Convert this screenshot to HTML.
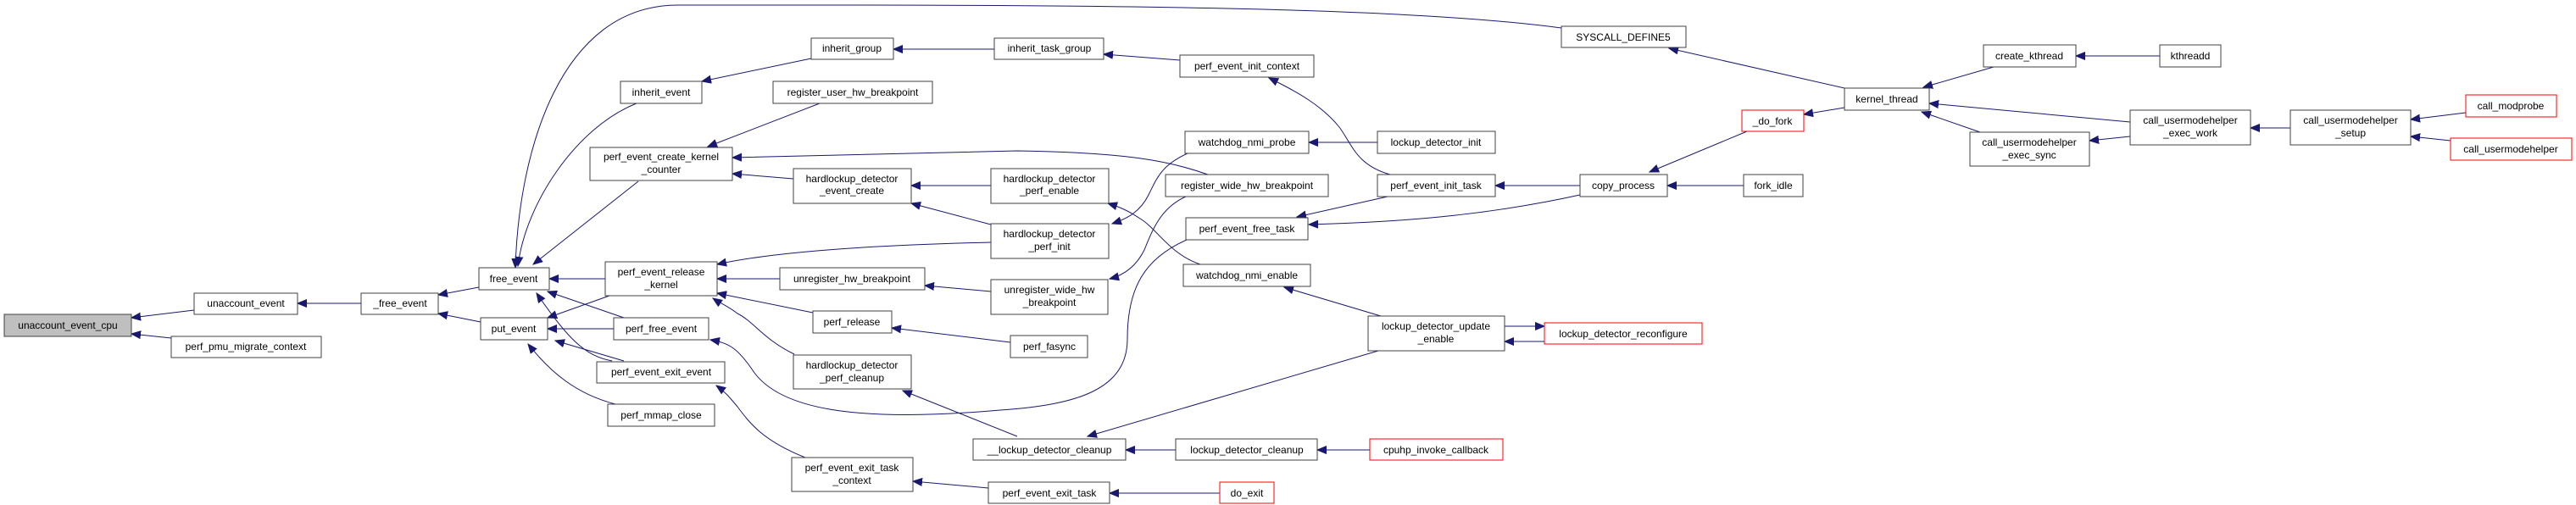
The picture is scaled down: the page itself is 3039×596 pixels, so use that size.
<!DOCTYPE html>
<html><head><meta charset="utf-8"><style>
html,body{margin:0;padding:0;background:#fff;}
svg{display:block;}
text{font-family:"Liberation Sans",Arial,sans-serif;font-size:12px;fill:#000;}
.n{fill:#fff;stroke:#404040;stroke-width:1;}
.r{fill:#fff;stroke:#ff0000;stroke-width:1;}
.e{fill:none;stroke:#191970;stroke-width:1;}
</style></head><body>
<svg width="3039" height="596" viewBox="0 0 3039 596" xmlns="http://www.w3.org/2000/svg">
<defs><marker id="a" markerUnits="userSpaceOnUse" markerWidth="12" markerHeight="10" refX="11" refY="5" orient="auto"><path d="M0,0.5 L11,5 L0,9.5 z" fill="#191970" stroke="#191970"/></marker></defs>
<g marker-end="url(#a)">
<path class="e" d="M229,366 L155,375"/>
<path class="e" d="M202,399 L155,394"/>
<path class="e" d="M426,358 L351,358"/>
<path class="e" d="M565,339 L517,348"/>
<path class="e" d="M567,380 L517,370"/>
<path class="e" d="M1842,33 C1700,14 1450,6 1000,6 L800,6 C660,6 612,180 608,316"/>
<path class="e" d="M751,122 C680,150 620,240 611,314"/>
<path class="e" d="M753,214 L629,312"/>
<path class="e" d="M714,329 L648,329"/>
<path class="e" d="M736,375 L646,344"/>
<path class="e" d="M722,426 C690,420 670,400 633,346"/>
<path class="e" d="M719,349 L646,375"/>
<path class="e" d="M724,388 L646,388"/>
<path class="e" d="M736,426 L655,402"/>
<path class="e" d="M726,477 C680,465 650,440 623,406"/>
<path class="e" d="M957,69 L828,96"/>
<path class="e" d="M1173,58 L1054,58"/>
<path class="e" d="M1392,71 L1302,64"/>
<path class="e" d="M967,122 L835,173"/>
<path class="e" d="M1425,206 C1380,190 1330,180 1200,178 L864,186"/>
<path class="e" d="M936,211 L864,205"/>
<path class="e" d="M1169,219 L1075,219"/>
<path class="e" d="M1169,265 L1075,240"/>
<path class="e" d="M1169,286 C1000,290 900,300 846,312"/>
<path class="e" d="M920,329 L846,329"/>
<path class="e" d="M959,369 L846,346"/>
<path class="e" d="M937,418 C900,400 890,380 870,370 C860,362 850,358 841,352"/>
<path class="e" d="M1169,344 L1091,337"/>
<path class="e" d="M1192,404 L1052,387"/>
<path class="e" d="M1400,283 C1350,305 1330,340 1330,400 C1330,460 1270,478 1180,484 C1000,500 920,480 890,440 C870,410 860,405 838,401"/>
<path class="e" d="M950,540 C900,520 885,500 870,480 C860,468 855,462 845,455"/>
<path class="e" d="M1200,515 L1065,461"/>
<path class="e" d="M1166,576 L1077,568"/>
<path class="e" d="M1401,181 C1370,195 1365,210 1355,230 C1345,250 1330,258 1312,264"/>
<path class="e" d="M1625,168 L1544,168"/>
<path class="e" d="M1399,232 C1370,245 1360,270 1350,295 C1340,315 1325,325 1309,329"/>
<path class="e" d="M1416,312 C1380,300 1365,270 1345,258 C1330,248 1320,244 1307,240"/>
<path class="e" d="M1640,206 C1600,195 1595,170 1580,150 C1560,125 1530,108 1497,92"/>
<path class="e" d="M1864,219 L1764,219"/>
<path class="e" d="M1637,232 L1530,256"/>
<path class="e" d="M1864,230 C1750,255 1650,262 1544,265"/>
<path class="e" d="M1629,373 L1515,339"/>
<path class="e" d="M1626,414 L1283,515"/>
<path class="e" d="M1775,385 L1822,385"/>
<path class="e" d="M1822,403 L1775,403"/>
<path class="e" d="M1387,531 L1328,531"/>
<path class="e" d="M1616,531 L1554,531"/>
<path class="e" d="M1439,582 L1309,582"/>
<path class="e" d="M2176,104 L1969,57"/>
<path class="e" d="M2176,127 L2128,135"/>
<path class="e" d="M2061,155 L1946,203"/>
<path class="e" d="M2057,219 L1967,219"/>
<path class="e" d="M2352,79 L2269,103"/>
<path class="e" d="M2513,144 L2276,122"/>
<path class="e" d="M2336,156 L2267,132"/>
<path class="e" d="M2548,66 L2449,66"/>
<path class="e" d="M2513,161 L2465,166"/>
<path class="e" d="M2702,151 L2655,151"/>
<path class="e" d="M2909,133 L2844,141"/>
<path class="e" d="M2891,166 L2844,161"/>
</g>
<g text-anchor="middle">
<rect x="5" y="371" width="150" height="26" fill="#bfbfbf" stroke="#404040"/><text x="80" y="388">unaccount_event_cpu</text>
<rect class="n" x="229" y="346" width="122" height="25"/><text x="290" y="362">unaccount_event</text>
<rect class="n" x="202" y="397" width="177" height="25"/><text x="290" y="413">perf_pmu_migrate_context</text>
<rect class="n" x="426" y="346" width="91" height="25"/><text x="472" y="362">_free_event</text>
<rect class="n" x="565" y="316" width="83" height="26"/><text x="606" y="333">free_event</text>
<rect class="n" x="567" y="375" width="79" height="26"/><text x="606" y="392">put_event</text>
<rect class="n" x="957" y="45" width="97" height="25"/><text x="1005" y="61">inherit_group</text>
<rect class="n" x="732" y="96" width="96" height="26"/><text x="780" y="113">inherit_event</text>
<rect class="n" x="912" y="96" width="188" height="26"/><text x="1006" y="113">register_user_hw_breakpoint</text>
<rect class="n" x="696" y="174" width="168" height="39"/><text x="780" y="189">perf_event_create_kernel</text><text x="780" y="204">_counter</text>
<rect class="n" x="936" y="199" width="139" height="41"/><text x="1005" y="215">hardlockup_detector</text><text x="1005" y="229">_event_create</text>
<rect class="n" x="714" y="309" width="132" height="40"/><text x="780" y="325">perf_event_release</text><text x="780" y="340">_kernel</text>
<rect class="n" x="920" y="316" width="171" height="26"/><text x="1005" y="333">unregister_hw_breakpoint</text>
<rect class="n" x="959" y="367" width="93" height="26"/><text x="1005" y="384">perf_release</text>
<rect class="n" x="724" y="375" width="112" height="26"/><text x="780" y="392">perf_free_event</text>
<rect class="n" x="704" y="427" width="151" height="25"/><text x="780" y="443">perf_event_exit_event</text>
<rect class="n" x="936" y="419" width="139" height="40"/><text x="1005" y="435">hardlockup_detector</text><text x="1005" y="450">_perf_cleanup</text>
<rect class="n" x="717" y="477" width="126" height="26"/><text x="780" y="494">perf_mmap_close</text>
<rect class="n" x="934" y="540" width="143" height="40"/><text x="1005" y="556">perf_event_exit_task</text><text x="1005" y="571">_context</text>
<rect class="n" x="1148" y="518" width="180" height="25"/><text x="1238" y="535">__lockup_detector_cleanup</text>
<rect class="n" x="1166" y="569" width="143" height="25"/><text x="1238" y="586">perf_event_exit_task</text>
<rect class="n" x="1173" y="45" width="129" height="25"/><text x="1238" y="61">inherit_task_group</text>
<rect class="n" x="1169" y="199" width="139" height="41"/><text x="1238" y="215">hardlockup_detector</text><text x="1238" y="229">_perf_enable</text>
<rect class="n" x="1169" y="264" width="139" height="41"/><text x="1238" y="280">hardlockup_detector</text><text x="1238" y="295">_perf_init</text>
<rect class="n" x="1169" y="330" width="138" height="41"/><text x="1238" y="346">unregister_wide_hw</text><text x="1238" y="361">_breakpoint</text>
<rect class="n" x="1192" y="396" width="91" height="26"/><text x="1238" y="413">perf_fasync</text>
<rect class="n" x="1842" y="31" width="147" height="25"/><text x="1915" y="48">SYSCALL_DEFINE5</text>
<rect class="n" x="1392" y="65" width="158" height="26"/><text x="1471" y="82">perf_event_init_context</text>
<rect class="n" x="1398" y="155" width="146" height="26"/><text x="1471" y="172">watchdog_nmi_probe</text>
<rect class="n" x="1625" y="155" width="139" height="26"/><text x="1694" y="172">lockup_detector_init</text>
<rect class="n" x="1375" y="206" width="192" height="26"/><text x="1471" y="223">register_wide_hw_breakpoint</text>
<rect class="n" x="1625" y="206" width="139" height="26"/><text x="1694" y="223">perf_event_init_task</text>
<rect class="n" x="1864" y="206" width="103" height="26"/><text x="1915" y="223">copy_process</text>
<rect class="n" x="1399" y="257" width="144" height="26"/><text x="1471" y="274">perf_event_free_task</text>
<rect class="n" x="1396" y="312" width="150" height="26"/><text x="1471" y="329">watchdog_nmi_enable</text>
<rect class="n" x="1614" y="373" width="161" height="41"/><text x="1694" y="389">lockup_detector_update</text><text x="1694" y="404">_enable</text>
<rect class="r" x="1822" y="381" width="186" height="25"/><text x="1915" y="398">lockup_detector_reconfigure</text>
<rect class="n" x="1387" y="518" width="167" height="25"/><text x="1471" y="535">lockup_detector_cleanup</text>
<rect class="r" x="1616" y="518" width="157" height="25"/><text x="1694" y="535">cpuhp_invoke_callback</text>
<rect class="r" x="1439" y="569" width="64" height="25"/><text x="1471" y="586">do_exit</text>
<rect class="n" x="2340" y="53" width="109" height="26"/><text x="2394" y="70">create_kthread</text>
<rect class="n" x="2176" y="104" width="100" height="26"/><text x="2226" y="121">kernel_thread</text>
<rect class="r" x="2055" y="130" width="73" height="25"/><text x="2091" y="147">_do_fork</text>
<rect class="n" x="2324" y="156" width="141" height="40"/><text x="2394" y="172">call_usermodehelper</text><text x="2394" y="187">_exec_sync</text>
<rect class="n" x="2057" y="206" width="70" height="26"/><text x="2092" y="223">fork_idle</text>
<rect class="n" x="2548" y="53" width="72" height="26"/><text x="2584" y="70">kthreadd</text>
<rect class="n" x="2513" y="130" width="142" height="41"/><text x="2584" y="146">call_usermodehelper</text><text x="2584" y="161">_exec_work</text>
<rect class="n" x="2702" y="130" width="142" height="41"/><text x="2773" y="146">call_usermodehelper</text><text x="2773" y="161">_setup</text>
<rect class="r" x="2909" y="112" width="107" height="26"/><text x="2962" y="129">call_modprobe</text>
<rect class="r" x="2891" y="163" width="143" height="26"/><text x="2962" y="180">call_usermodehelper</text>
</g>
</svg>
</body></html>
